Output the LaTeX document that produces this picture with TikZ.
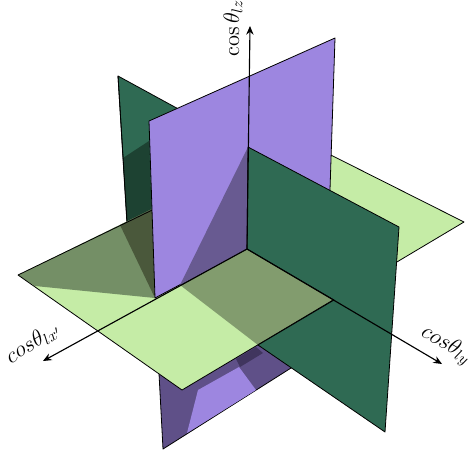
\documentclass[tikz,border=0pt]{standalone}
\usepackage{amsmath,amssymb}
\usepackage{tikz}
\usetikzlibrary{arrows.meta}
\definecolor{planegreen}{HTML}{C5ECA6}
\definecolor{planeolive}{HTML}{748F66}
\definecolor{planeolivelt}{HTML}{829C6E}
\definecolor{planeolivedk}{HTML}{4A583B}
\definecolor{walldark}{HTML}{2F6A53}
\definecolor{walldarker}{HTML}{1D4232}
\definecolor{wallpurple}{HTML}{9D86E0}
\definecolor{wallpurplemid}{HTML}{685A91}
\definecolor{wallpurpledk}{HTML}{5F5088}
\definecolor{wallpurplebk}{HTML}{40355E}
\begin{document}
\begin{tikzpicture}[x=0.75pt, y=-0.75pt, >={Stealth[length=6.5pt, width=5.5pt]},
    edge/.style={draw=black, line width=0.6pt, line join=round},
    axis/.style={->, line width=0.85pt},
    lab/.style={font=\Large, scale=1.17, inner sep=0pt}]
    \useasboundingbox (0,0) rectangle (473,457);
    \coordinate (o) at (247,249);
    \coordinate (xtip) at (43,361);
    \coordinate (ytip) at (442,364);
    \coordinate (ztip) at (250,26);
    % lower part of the purple wall
    \filldraw[edge, fill=wallpurpledk] (155,298) -- (163,449) -- (310,356) -- (o) -- cycle;
    \fill[wallpurple] (198,390) -- (239,367) -- (256,390) -- (187,433) -- cycle;
    \fill[wallpurplebk] (236,359) -- (240,367) -- (263,353) -- (256,347) -- cycle;
    % back part of the green wall
    \filldraw[edge, fill=walldark] (118,76) -- (248,147) -- (o) -- (131,290) -- cycle;
    \fill[walldarker] (123,158) -- (149,141) -- (155,298) -- (127,221) -- cycle;
    \draw[edge] (118,76) -- (127,221);
    % floor plane
    \fill[planegreen] (18,275) -- (182,390) -- (464,222) -- (299,139) -- cycle;
    \fill[planeolive] (18,275) -- (35,286) -- (155,298) -- (152,209) -- cycle;
    \fill[planeolivedk] (120,225) -- (155,298) -- (152,209) -- cycle;
    \fill[planeolivelt] (180,285) -- (o) -- (334,300) -- (258,345) -- cycle;
    \draw[edge] (18,275) -- (182,390) -- (464,222) -- (299,139) -- cycle;
    % upper part of the purple wall
    \filldraw[edge, fill=wallpurple] (149,121) -- (335,38) -- (329,220) -- (o) -- (155,298) -- cycle;
    \fill[wallpurplemid] (248,147) -- (180,285) -- (o) -- cycle;
    % front part of the green wall
    \filldraw[edge, fill=walldark] (248,147) -- (399,227) -- (385,432) -- (258,345) -- (334,300) -- (o) -- cycle;
    % axes
    \draw[axis] (o) -- (xtip);
    \draw[axis] (o) -- (ytip);
    \draw[axis] (o) -- (ztip);
    \node[lab, rotate=32] (labx) at (33,343) {$cos\theta_{lx'}$};
    \node[lab, rotate=-30] (laby) at (446,345) {$cos\theta_{ly}$};
    \node[lab, rotate=90] (labz) at (233,28) {$\cos\theta_{lz}$};
\end{tikzpicture}
\end{document}
